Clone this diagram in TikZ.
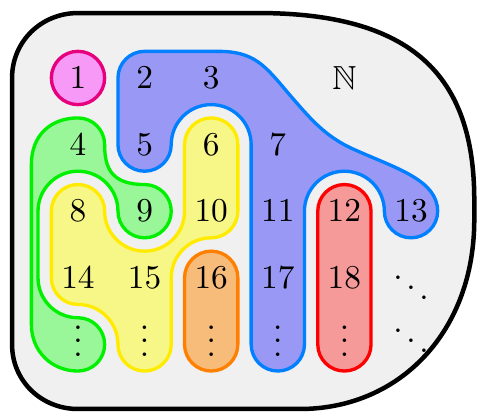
\documentclass[tikz,border=0pt]{standalone}
\usepackage{amssymb}
\definecolor{bgc}{RGB}{240,240,240}
\definecolor{pinkfill}{RGB}{247,153,247}
\definecolor{pinkline}{RGB}{230,0,126}
\definecolor{bluefill}{RGB}{153,153,245}
\definecolor{blueline}{RGB}{0,128,255}
\definecolor{greenfill}{RGB}{153,247,153}
\definecolor{greenline}{RGB}{0,240,0}
\definecolor{yellowfill}{RGB}{247,247,135}
\definecolor{yellowline}{RGB}{255,235,0}
\definecolor{orangefill}{RGB}{247,187,122}
\definecolor{orangeline}{RGB}{255,128,0}
\definecolor{redfill}{RGB}{245,153,153}
\definecolor{redline}{RGB}{255,0,0}
\tikzset{
  universe/.style={draw=black,fill=bgc,line width=1.35pt},
  blob/.style={line width=1pt},
  num/.style={inner sep=0pt}
}
\begin{document}
\begin{tikzpicture}[x=19.98pt,y=-19.98pt]
\useasboundingbox (-1.171,-1.171) rectangle (5.991,5.015);
% universe
\draw[universe] (-0.99,0) -- (-0.99,4) .. controls (-0.99,4.55) and (-0.55,4.97) .. (0,4.97)
  -- (3.33,4.97) .. controls (4.84,4.97) and (5.95,3.8) .. (5.95,2.13)
  -- (5.95,1.83) .. controls (5.95,-0.05) and (5.0,-0.975) .. (2.7,-0.975)
  -- (0,-0.975) .. controls (-0.55,-0.975) and (-0.99,-0.55) .. (-0.99,0) -- cycle;
% pink
\draw[blob,draw=pinkline,fill=pinkfill] (0,0) circle (0.4);
% blue
\draw[blob,draw=blueline,fill=bluefill] (0.6,0) -- (0.6,1) arc (180:0:0.4) arc (180:360:0.6)
  -- (2.6,4) arc (180:0:0.4) -- (3.4,2) arc (180:360:0.6) arc (180:0:0.4)
  .. controls (5.4,1.53) and (4.76,1.35) .. (4.16,1.08)
  .. controls (3.71,0.886) and (3.48,0.6) .. (3.18,0.255)
  .. controls (2.81,-0.18) and (2.66,-0.4) .. (2.1,-0.4)
  -- (1,-0.4) arc (270:180:0.4) -- cycle;
% green
\draw[blob,draw=greenline,fill=greenfill] (0,0.6) arc (270:360:0.4)
  .. controls (0.4,1.35) and (0.5,1.6) .. (1,1.6)
  arc (-90:180:0.4) arc (0:-180:0.6) -- (-0.6,3) arc (180:90:0.6) arc (-90:90:0.4)
  .. controls (-0.4,4.4) and (-0.7,4.1) .. (-0.7,3.7) -- (-0.7,1.3)
  .. controls (-0.7,0.85) and (-0.4,0.6) .. (0,0.6) -- cycle;
% yellow
\draw[blob,draw=yellowline,fill=yellowfill] (-0.4,2) -- (-0.4,3) arc (180:90:0.4)
  arc (270:360:0.6) arc (180:0:0.4) -- (1.4,3) arc (180:270:0.6) arc (90:0:0.4)
  -- (2.4,1) arc (0:-180:0.4) -- (1.6,2) arc (0:180:0.6) arc (0:-180:0.4) -- cycle;
% orange
\draw[blob,draw=orangeline,fill=orangefill] (1.6,3) -- (1.6,4) arc (180:0:0.4) -- (2.4,3) arc (0:-180:0.4) -- cycle;
% red
\draw[blob,draw=redline,fill=redfill] (3.6,2) -- (3.6,4) arc (180:0:0.4) -- (4.4,2) arc (0:-180:0.4) -- cycle;
% labels
\node[num] (n1) at (0,0) {$1$};
\node[num] (n2) at (1,0) {$2$};
\node[num] (n3) at (2,0) {$3$};
\node[num] (nN) at (4,0) {$\mathbb{N}$};
\node[num] (n4) at (0,1) {$4$};
\node[num] (n5) at (1,1) {$5$};
\node[num] (n6) at (2,1) {$6$};
\node[num] (n7) at (3,1) {$7$};
\node[num] (n8) at (0,2) {$8$};
\node[num] (n9) at (1,2) {$9$};
\node[num] (n10) at (2,2) {$10$};
\node[num] (n11) at (3,2) {$11$};
\node[num] (n12) at (4,2) {$12$};
\node[num] (n13) at (5,2) {$13$};
\node[num] (n14) at (0,3) {$14$};
\node[num] (n15) at (1,3) {$15$};
\node[num] (n16) at (2,3) {$16$};
\node[num] (n17) at (3,3) {$17$};
\node[num] (n18) at (4,3) {$18$};
\node[num] (dd1) at (5,3) {$\ddots$};
\node[num] (v1) at (0,3.8) {$\vdots$};
\node[num] (v2) at (1,3.8) {$\vdots$};
\node[num] (v3) at (2,3.8) {$\vdots$};
\node[num] (v4) at (3,3.8) {$\vdots$};
\node[num] (v5) at (4,3.8) {$\vdots$};
\node[num] (dd2) at (5,3.8) {$\ddots$};
\end{tikzpicture}
\end{document}
